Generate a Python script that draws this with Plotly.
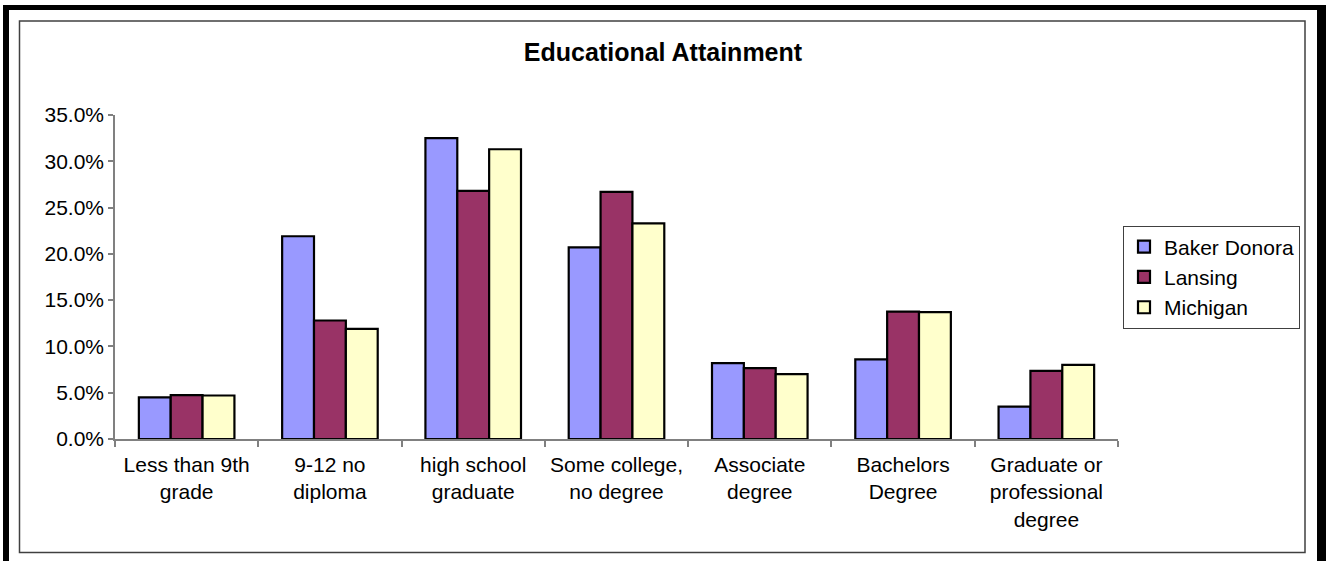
import plotly.graph_objects as go

categories = ["Less than 9th grade", "9-12 no diploma", "high school graduate",
              "Some college, no degree", "Associate degree", "Bachelors Degree",
              "Graduate or professional degree"]
tick_labels = ["Less than 9th<br>grade", "9-12 no<br>diploma", "high school<br>graduate",
               "Some college,<br>no degree", "Associate<br>degree", "Bachelors<br>Degree",
               "Graduate or<br>professional<br>degree"]
baker_donora = [0.045, 0.219, 0.325, 0.207, 0.082, 0.086, 0.035]
lansing = [0.0475, 0.128, 0.268, 0.267, 0.0765, 0.1375, 0.0735]
michigan = [0.047, 0.119, 0.313, 0.233, 0.070, 0.137, 0.080]

series = [("Baker Donora", baker_donora, "#9999FF"),
          ("Lansing", lansing, "#993366"),
          ("Michigan", michigan, "#FFFFCC")]

FONT = "Liberation Sans, Arial, sans-serif"
W, H = 1326, 561
L, R, T, B = 115, 208, 115, 122
PW, PH = W - L - R, H - T - B

fig = go.Figure()
for name, vals, color in series:
    fig.add_trace(go.Bar(x=categories, y=vals, name=name,
                         marker=dict(color=color, line=dict(color="black", width=2.2))))

def px(x):
    return (x - L) / PW

def py(y):
    return (H - B - y) / PH

shapes = [
    # inner chart border
    dict(type="rect", xref="paper", yref="paper", x0=px(19.5), x1=px(1305), y0=py(552.5), y1=py(21),
         line=dict(color="#404040", width=1.5), fillcolor="rgba(0,0,0,0)", layer="below"),
    # outer thick frame
    dict(type="rect", xref="paper", yref="paper", x0=px(3), x1=px(1326), y0=py(10), y1=py(5),
         line=dict(width=0), fillcolor="black"),
    dict(type="rect", xref="paper", yref="paper", x0=px(3), x1=px(9), y0=py(561), y1=py(5),
         line=dict(width=0), fillcolor="black"),
    dict(type="rect", xref="paper", yref="paper", x0=px(1317), x1=px(1326), y0=py(561), y1=py(5),
         line=dict(width=0), fillcolor="black"),
]

fig.update_layout(
    width=W, height=H,
    margin=dict(l=L, r=R, t=T, b=B, autoexpand=False),
    paper_bgcolor="white", plot_bgcolor="white",
    font=dict(family=FONT, size=21, color="black"),
    title=dict(text="<b>Educational Attainment</b>", x=0.5, xref="container", xanchor="center",
               y=1 - 52 / H, yref="container", yanchor="middle",
               font=dict(family=FONT, size=25, color="black")),
    barmode="group", bargap=0.333, bargroupgap=0,
    showlegend=True,
    legend=dict(x=px(1123), xanchor="left", y=0.5, yanchor="middle",
                bordercolor="#404040", borderwidth=1, bgcolor="white",
                font=dict(family=FONT, size=21, color="black"), tracegroupgap=0),
    xaxis=dict(tickmode="array", tickvals=categories, ticktext=tick_labels,
               showline=True, linecolor="#808080", linewidth=1.5,
               ticks="outside", tickson="boundaries", ticklen=6, tickcolor="#808080", tickwidth=1.5,
               ticklabelstandoff=6,
               showgrid=False, tickfont=dict(family=FONT, size=21, color="black")),
    yaxis=dict(range=[0, 0.35], dtick=0.05, tickformat=".1%",
               showline=True, linecolor="#808080", linewidth=1.5,
               ticks="outside", ticklen=5, tickcolor="#808080", tickwidth=1.5,
               showgrid=False, zeroline=False, tickfont=dict(family=FONT, size=21, color="black")),
    shapes=shapes,
)

fig.write_html("out.html", config={"displayModeBar": False},
               post_script="document.body.style.margin='0';document.body.style.overflow='hidden';")
